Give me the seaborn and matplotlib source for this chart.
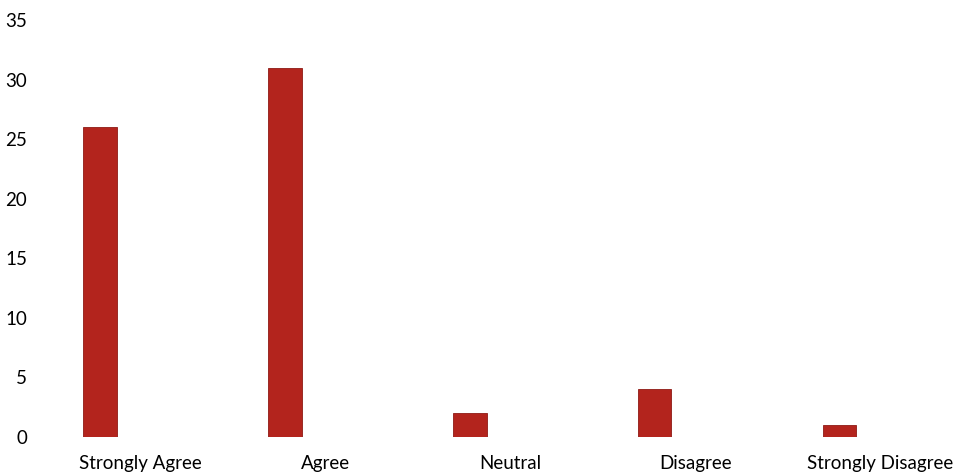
import pandas as pd
import matplotlib.pyplot as plt
import seaborn as sns
import numpy as np

categories = ['Strongly Agree', 'Agree', 'Neutral', 'Disagree', 'Strongly Disagree']
responses = [26, 31, 2, 4, 1]
yticks = [0, 5, 10, 15, 20, 25, 30, 35]

data = pd.DataFrame({'Response': categories, 'Count': responses})

sns.set_style('white')
plt.rcParams['font.family'] = ['Lato', 'DejaVu Sans']

fig = plt.figure(figsize=(9.6, 4.76), dpi=100)
ax = fig.add_axes([0.047, 0.082, 0.953, 0.876])
sns.barplot(data=data, x='Response', y='Count', color='#B3241D', saturation=1,
            width=0.18, ax=ax, edgecolor='#8E1A15', linewidth=0.6)

ax.set_ylim(0, 35)
ax.set_yticks(yticks)
ax.set_xlim(-0.297, 4.65)
# category labels sit a little right of the bars, as in the original
ax.set_xticks(np.arange(len(categories)) + 0.22, labels=categories)
ax.tick_params(axis='both', length=0, labelsize=13.5, colors='black')
ax.tick_params(axis='x', pad=13)
ax.tick_params(axis='y', pad=13)
ax.set_xlabel('')
ax.set_ylabel('')
sns.despine(ax=ax, left=True, bottom=True)

plt.savefig('out.png', dpi=100)
plt.close()
